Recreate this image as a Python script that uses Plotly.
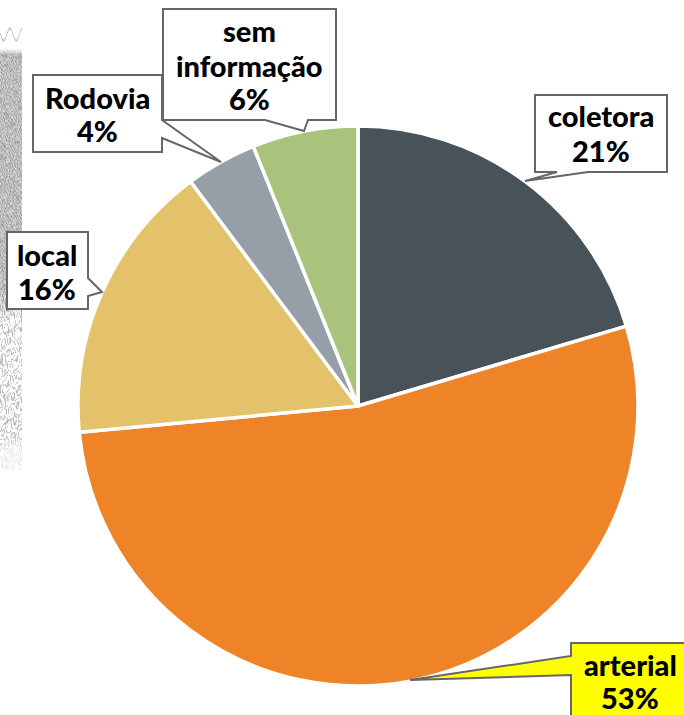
import base64
import struct
import zlib

import numpy as np
import plotly.graph_objects as go

W, H = 684, 715
categories = ["coletora", "arterial", "local", "Rodovia", "sem informação"]
values = [20.4, 53.1, 16.3, 4.1, 6.1]
percent_labels = ["21%", "53%", "16%", "4%", "6%"]
colors = ["#475359", "#EE8427", "#E4C26C", "#969EA7", "#A9C37C"]

FONT = "Lato"
GREY = "#666666"


def px(x):
    return x / W


def py(y):
    return 1 - y / H


def callout(points, fill="#FFFFFF"):
    path = "M " + " L ".join(f"{px(x):.5f},{py(y):.5f}" for x, y in points) + " Z"
    return dict(type="path", path=path, xref="paper", yref="paper",
                fillcolor=fill, line=dict(color=GREY, width=2), layer="above")


def label(x, y, text):
    return dict(x=px(x), y=py(y), xref="paper", yref="paper", text=text,
                showarrow=False, xanchor="center", yanchor="middle", align="center",
                font=dict(family=FONT, size=29, color="#000000", weight=900))


def map_texture():
    """Backdrop street-map texture for the left edge (decoration, not chart data)."""
    yy, xx = np.mgrid[0:448, 0:22].astype(float)
    yy += 22
    warp = (2.6 * np.sin(0.061 * yy + 0.23 * xx) + 1.7 * np.sin(0.137 * yy - 0.41 * xx)
            + 1.1 * np.sin(0.291 * yy + 0.73 * xx))
    roads = np.sin(0.47 * xx + 0.19 * yy + warp)
    roads2 = np.sin(0.29 * xx - 0.13 * yy + 1.3 * warp)
    lines = np.exp(-(roads / 0.3) ** 2) + np.exp(-(roads2 / 0.3) ** 2)
    fine = (np.sin(2.3 * xx + 1.7 * warp) * np.sin(1.31 * yy + warp)
            + 0.6 * np.sin(1.13 * xx - 0.87 * yy + 2.1 * warp))
    top = np.clip((yy - 48) / 6, 0, 1) * np.clip((320 - yy) / 35, 0, 1)
    low = np.clip((yy - 280) / 30, 0, 1) * np.clip((465 - yy) / 35, 0.3, 1)
    dark = top * (62 + 22 * fine + 14 * lines) + low * 70 * np.clip(lines, 0, 1)
    dark += np.clip(1 - np.abs(yy - 34 - 6 * np.sin(xx * 0.5)) / 2, 0, 1) * 70
    img = np.clip(255 - dark, 0, 255).astype(np.uint8)
    raw = b"".join(b"\x00" + row.tobytes() for row in img)

    def chunk(tag, data):
        return (struct.pack(">I", len(data)) + tag + data
                + struct.pack(">I", zlib.crc32(tag + data) & 0xFFFFFFFF))

    png = (b"\x89PNG\r\n\x1a\n"
           + chunk(b"IHDR", struct.pack(">IIBBBBB", img.shape[1], img.shape[0], 8, 0, 0, 0, 0))
           + chunk(b"IDAT", zlib.compress(raw)) + chunk(b"IEND", b""))
    return "data:image/png;base64," + base64.b64encode(png).decode()


fig = go.Figure(go.Pie(
    labels=categories, values=values, sort=False, direction="clockwise", rotation=0,
    marker=dict(colors=colors, line=dict(color="#FFFFFF", width=3.5)),
    textinfo="none", showlegend=False, hole=0,
    domain=dict(x=[px(78), px(638)], y=[py(686), py(126)]),
))

shapes = [
    callout([(535, 95), (667, 95), (667, 172), (588, 172), (525, 181), (557, 172), (535, 172)]),
    callout([(33, 75), (162, 75), (162, 120), (221, 162), (162, 138), (162, 152), (33, 152)]),
    callout([(163, 9), (336, 9), (336, 120), (308, 120), (304, 131), (265, 120), (163, 120)]),
    callout([(7, 232), (88, 232), (88, 278), (102, 292), (88, 296), (88, 309), (7, 309)]),
    callout([(571, 643), (690, 643), (690, 720), (571, 720), (571, 675), (410, 680), (571, 656)],
            fill="#FFFF00"),
]

annotations = [
    label(601, 116, categories[0]), label(601, 150, percent_labels[0]),
    label(630, 664, categories[1]), label(630, 697, percent_labels[1]),
    label(47, 254, categories[2]), label(47, 288, percent_labels[2]),
    label(97, 97, categories[3]), label(97, 130, percent_labels[3]),
    label(249, 31, "sem"), label(249, 65, "informação"), label(249, 99, percent_labels[4]),
]

images = [dict(source=map_texture(), xref="paper", yref="paper", x=0, y=py(22),
               sizex=px(22), sizey=448 / H, sizing="stretch", xanchor="left", yanchor="top",
               layer="below")]

fig.update_layout(width=W, height=H, margin=dict(l=0, r=0, t=0, b=0),
                  paper_bgcolor="rgba(0,0,0,0)", plot_bgcolor="rgba(0,0,0,0)",
                  shapes=shapes, annotations=annotations, images=images)
fig.write_html("out.html", config=dict(displayModeBar=False),
               post_script="document.body.style.margin='0';document.body.style.overflow='hidden';")
